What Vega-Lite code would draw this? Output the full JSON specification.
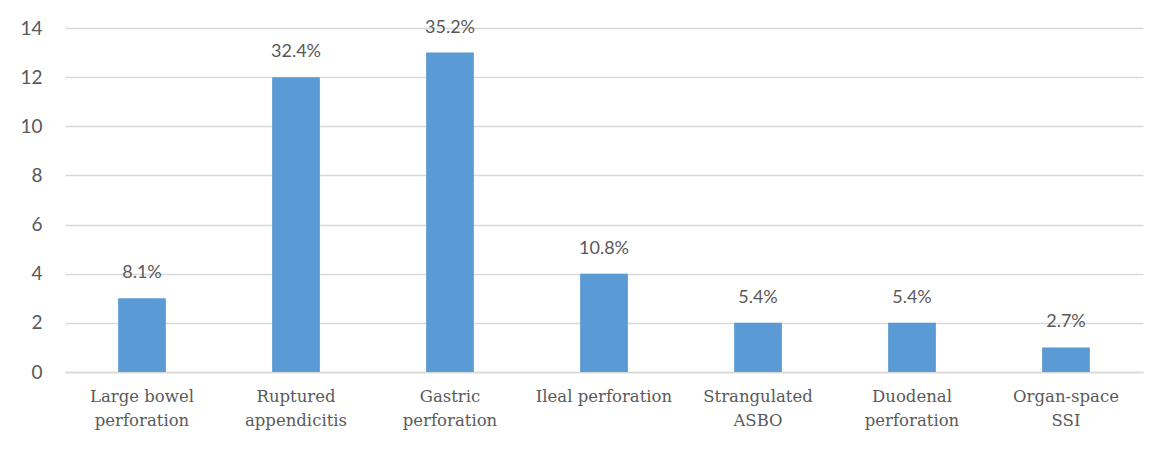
{
  "$schema": "https://vega.github.io/schema/vega-lite/v6.json",
  "autosize": {"type": "none"},
  "padding": {"left": 65, "top": 28, "right": 8, "bottom": 89},
  "width": 1078,
  "height": 344,
  "background": "white",
  "config": {"view": {"stroke": null}},
  "data": {
    "values": [
      {"category": "Large bowel|perforation", "count": 3, "share": "8.1%"},
      {"category": "Ruptured|appendicitis", "count": 12, "share": "32.4%"},
      {"category": "Gastric|perforation", "count": 13, "share": "35.2%"},
      {"category": "Ileal perforation", "count": 4, "share": "10.8%"},
      {"category": "Strangulated|ASBO", "count": 2, "share": "5.4%"},
      {"category": "Duodenal|perforation", "count": 2, "share": "5.4%"},
      {"category": "Organ-space|SSI", "count": 1, "share": "2.7%"}
    ]
  },
  "encoding": {
    "x": {
      "field": "category",
      "type": "nominal",
      "sort": null,
      "scale": {"paddingInner": 0.69, "paddingOuter": 0.345},
      "axis": {
        "title": null,
        "labelAngle": 0,
        "labelExpr": "split(datum.value, '|')",
        "labelFont": "DejaVu Serif",
        "labelFontSize": 16.5,
        "labelColor": "#5a5a5a",
        "labelLineHeight": 24,
        "labelPadding": 16,
        "labelBaseline": "top",
        "ticks": false,
        "domain": true,
        "domainColor": "#d9d9d9",
        "domainWidth": 1.5
      }
    },
    "y": {
      "field": "count",
      "type": "quantitative",
      "scale": {"domain": [0, 14], "nice": false},
      "axis": {
        "title": null,
        "values": [0, 2, 4, 6, 8, 10, 12, 14],
        "grid": true,
        "gridColor": "#d9d9d9",
        "gridWidth": 1.5,
        "domain": false,
        "ticks": false,
        "labelFont": "Lato",
        "labelFontSize": 19,
        "labelColor": "#595959",
        "labelPadding": 23
      }
    }
  },
  "layer": [
    {"mark": {"type": "bar", "color": "#5B9BD5"}},
    {
      "mark": {
        "type": "text",
        "font": "Lato",
        "fontSize": 18,
        "color": "#595959",
        "baseline": "alphabetic",
        "dy": -20
      },
      "encoding": {"text": {"field": "share", "type": "nominal"}}
    }
  ]
}
